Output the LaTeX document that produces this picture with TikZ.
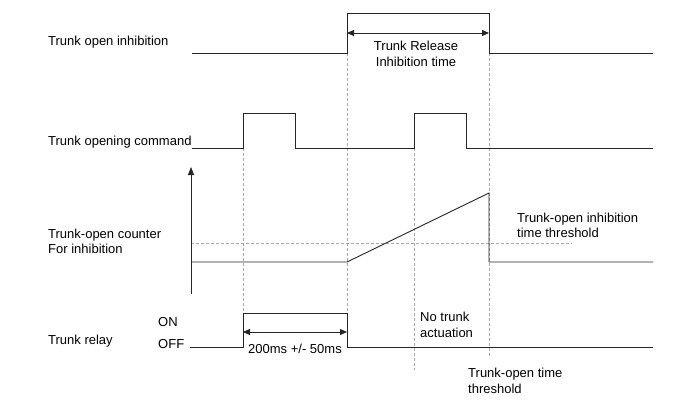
\documentclass[tikz,border=0pt]{standalone}
\usepackage{fontspec}
\setmainfont{Liberation Sans}
\usetikzlibrary{arrows.meta}
\tikzset{
  sig/.style={draw=black!85, line width=0.9pt},
  guide/.style={draw=black!35, line width=0.5pt, dash pattern=on 3pt off 2pt},
  dim/.style={draw=black!85, line width=0.8pt, {Triangle[length=7pt,width=6pt]}-{Triangle[length=7pt,width=6pt]}},
  lbl/.style={anchor=base west, inner sep=0pt, font=\fontsize{13pt}{15pt}\selectfont},
  clbl/.style={anchor=base, inner sep=0pt, font=\fontsize{13pt}{15pt}\selectfont}
}
\begin{document}
\begin{tikzpicture}[x=1pt,y=-1pt]
\useasboundingbox (0,0) rectangle (700,410);
\fill[white] (0,0) rectangle (700,410);
% left labels
\node[lbl] (l1) at (48,45) {Trunk open inhibition};
\node[lbl] (l2) at (48,145) {Trunk opening command};
\node[lbl] (l3) at (48,238) {Trunk-open counter};
\node[lbl] (l4) at (48,253) {For inhibition};
\node[lbl] (l5) at (48,344) {Trunk relay};
\node[lbl] (on) at (158,326) {ON};
\node[lbl] (off) at (158,348) {OFF};
% guides
\coordinate (g1a) at (243,148); \coordinate (g1b) at (243,313);
\coordinate (g2a) at (347,53);  \coordinate (g2b) at (347,313);
\coordinate (g3a) at (414,148); \coordinate (g3b) at (414,370);
\coordinate (g4a) at (489,53);  \coordinate (g4b) at (489,358);
\coordinate (tha) at (191,243); \coordinate (thb) at (572,243);
\draw[guide] (g1a) -- (g1b);
\draw[guide] (g2a) -- (g2b);
\draw[guide] (g3a) -- (g3b);
\draw[guide] (g4a) -- (g4b);
\draw[guide] (tha) -- (thb);
% signal 1
\coordinate (s1a) at (192,53); \coordinate (s1b) at (653,53);
\draw[sig] (s1a) -- (347,53) -- (347,13) -- (489,13) -- (489,53) -- (s1b);
\coordinate (d1a) at (347,33); \coordinate (d1b) at (489,33);
\draw[dim] (d1a) -- (d1b);
\node[clbl] (t1) at (416,50) {Trunk Release};
\node[clbl] (t2) at (416,66) {Inhibition time};
% signal 2
\coordinate (s2a) at (192,148); \coordinate (s2b) at (653,148);
\draw[sig] (s2a) -- (243,148) -- (243,113) -- (295,113) -- (295,148) -- (414,148) -- (414,113) -- (466,113) -- (466,148) -- (s2b);
% counter
\coordinate (ax0) at (191,294); \coordinate (ax1) at (191,167);
\draw[draw=black!85, line width=0.8pt, -{Triangle[length=8pt,width=6pt]}] (ax0) -- (ax1);
\coordinate (c0) at (191,262); \coordinate (c1) at (653,262);
\draw[sig] (c0) -- (347,262) -- (489,193) -- (489,262) -- (c1);
\node[lbl] (t3) at (517,222) {Trunk-open inhibition};
\node[lbl] (t4) at (517,237) {time threshold};
% relay
\coordinate (r0) at (190,347); \coordinate (r1) at (653,347);
\draw[sig] (r0) -- (243,347) -- (243,313) -- (347,313) -- (347,347) -- (r1);
\coordinate (d2a) at (243,332); \coordinate (d2b) at (347,332);
\draw[dim] (d2a) -- (d2b);
\node[clbl] (t5) at (295,353) {200ms +/- 50ms};
\node[lbl] (t6) at (420,321) {No trunk};
\node[lbl] (t7) at (420,337) {actuation};
\node[lbl] (t8) at (468,377) {Trunk-open time};
\node[lbl] (t9) at (468,393) {threshold};
\end{tikzpicture}
\end{document}
